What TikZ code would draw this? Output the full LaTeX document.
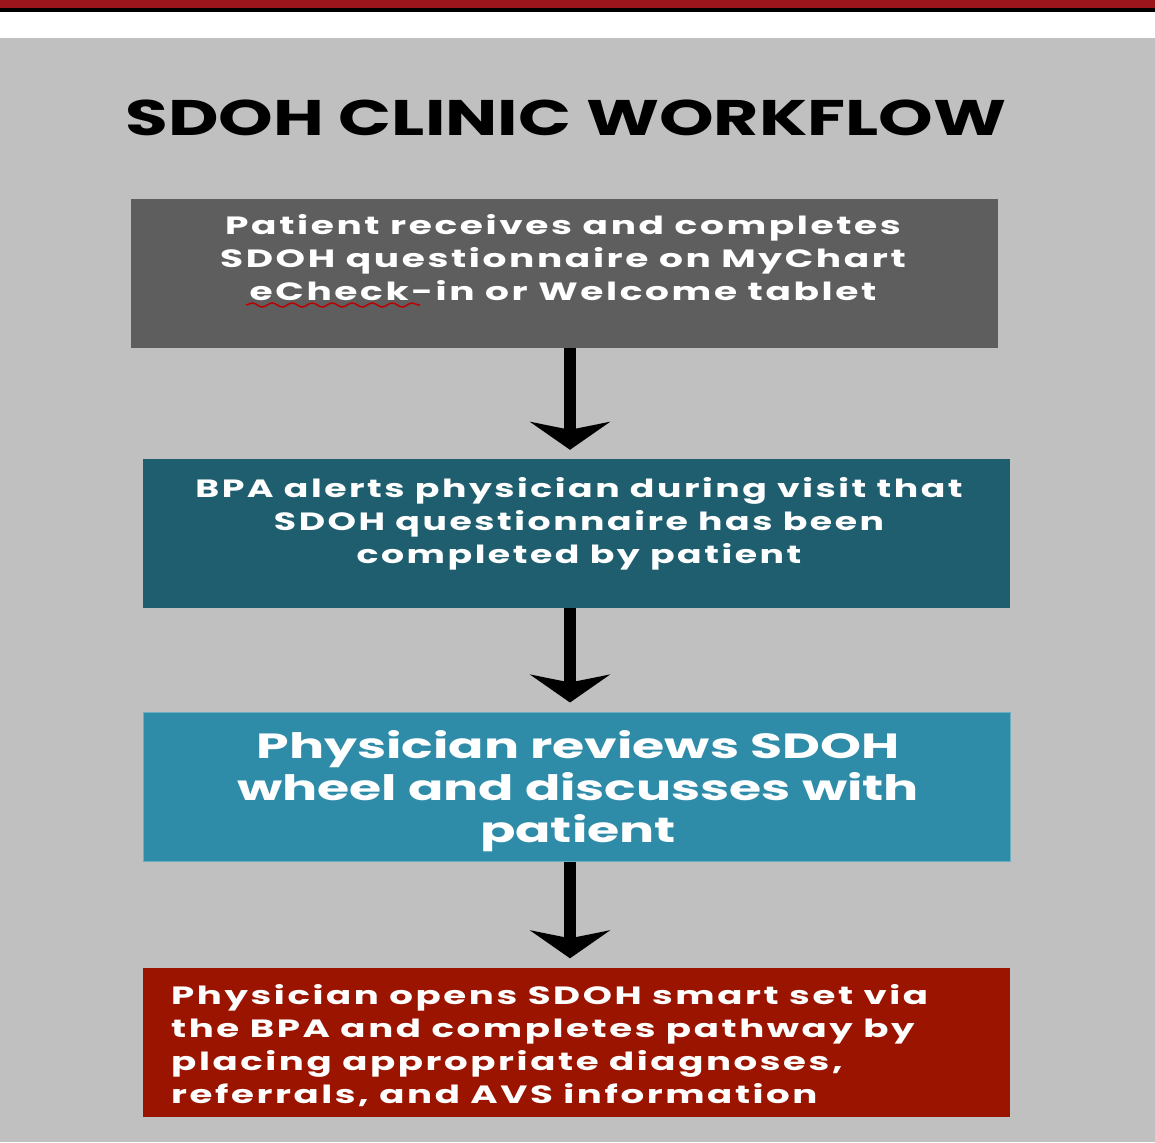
\documentclass[tikz,border=0pt]{standalone}
\usepackage{fontspec}
\setmainfont{Poppins}
\newfontfamily\trackbody[LetterSpace=7]{Poppins}
\usetikzlibrary{arrows.meta,decorations.pathmorphing}
\definecolor{bandred}{HTML}{9B151C}
\definecolor{pagegray}{HTML}{C0C0C0}
\definecolor{stepgray}{HTML}{5E5E5E}
\definecolor{stepteal}{HTML}{1F5E6E}
\definecolor{stepblue}{HTML}{2E8CA8}
\definecolor{stepred}{HTML}{9A1400}
\newcommand{\widen}[2][1.45]{\scalebox{#1}[1]{#2}}
\tikzset{
  stepbox/.style={rectangle, minimum width=867pt, minimum height=149pt,
    inner sep=0pt},
  steptext/.style={text=white, inner sep=0pt},
  flow/.style={line width=12pt, shorten >=9pt,
    -{Stealth[length=28pt, width=80pt, inset=8pt]}},
}
\begin{document}
\begin{tikzpicture}[x=1pt,y=-1pt]
  \useasboundingbox (0,0) rectangle (1155,1142);
  % page background and header band
  \fill[pagegray] (0,0) rectangle (1155,1142);
  \fill[white] (0,0) rectangle (1155,38);
  \fill[black] (0,0) rectangle (1155,12);
  \fill[bandred] (0,0) rectangle (1155,8);

  \node (title) at (566,118) {\widen[1.39]{\fontsize{50}{55}\selectfont\bfseries SDOH CLINIC WORKFLOW}};

  \node[stepbox, fill=stepgray] (s1) at (564.5,273) {};
  \node[steptext] (t1) at (563,261)
    {\widen[1.5]{\trackbody\fontsize{25}{33}\selectfont\bfseries
     \begin{tabular}{@{}c@{}}Patient receives and completes\\SDOH questionnaire on MyChart\\eCheck-in or Welcome tablet\end{tabular}}};

  \node[stepbox, fill=stepteal] (s2) at (576.5,533.5) {};
  \node[steptext] (t2) at (579,524)
    {\widen{\trackbody\fontsize{25}{33}\selectfont\bfseries
     \begin{tabular}{@{}c@{}}BPA alerts physician during visit that\\SDOH questionnaire has been\\completed by patient\end{tabular}}};

  \node[stepbox, fill=stepblue, draw=stepblue!70!white, line width=1pt] (s3) at (576.5,786.5) {};
  \node[steptext] (t3) at (578,792)
    {\widen[1.49]{\fontsize{35}{42}\selectfont\bfseries
     \begin{tabular}{@{}c@{}}Physician reviews SDOH\\wheel and discusses with\\patient\end{tabular}}};

  \node[stepbox, fill=stepred] (s4) at (576.5,1042) {};
  \node[steptext, anchor=west] (t4) at (171,1047)
    {\widen[1.485]{\trackbody\fontsize{25}{33}\selectfont\bfseries
     \begin{tabular}{@{}l@{}}Physician opens SDOH smart set via\\the BPA and completes pathway by\\placing appropriate diagnoses,\\referrals, and AVS information\end{tabular}}};

  % spell-check underline
  \draw[red!75!black, line width=1.5pt, decorate,
    decoration={snake, amplitude=2pt, segment length=20pt}] (246,305) -- (420,305);

  \draw[flow] (s1.south -| 570,0) -- (s2.north -| 570,0);
  \draw[flow] (s2.south -| 570,0) -- (s3.north -| 570,0);
  \draw[flow] (s3.south -| 570,0) -- (s4.north -| 570,0);
\end{tikzpicture}
\end{document}
